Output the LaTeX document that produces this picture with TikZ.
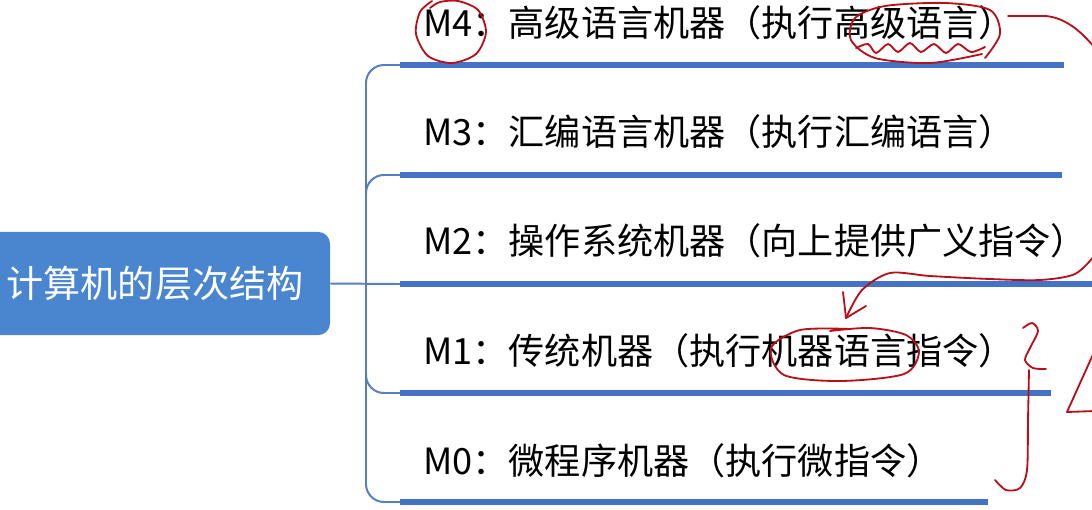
\documentclass[tikz,border=0pt]{standalone}
\usepackage{fontspec}
\setmainfont{Noto Sans CJK SC}
\usepackage{tikz}
\usetikzlibrary{positioning}

\definecolor{rootblue}{RGB}{74,134,208}
\definecolor{lineblue}{RGB}{68,114,196}
\definecolor{linkblue}{RGB}{86,126,192}
\definecolor{penred}{RGB}{185,15,25}

\begin{document}
\begin{tikzpicture}[
    x=0.025cm, y=-0.025cm,
    root/.style={rectangle, rounded corners=0.3cm, fill=rootblue, text=white, minimum width=8.75cm, minimum height=2.58cm, font=\fontsize{26.4}{30}\selectfont},
    level/.style={anchor=west, inner sep=0pt, font=\fontsize{25.7}{30}\selectfont},
    under/.style={line width=4.2pt, lineblue},
    link/.style={line width=1.4pt, linkblue, rounded corners=0.45cm},
    pen/.style={line width=1.3pt, penred, line cap=round, line join=round}
]
\useasboundingbox (0,0) rectangle (1092,509);

% Root
\node[root] (root) at (155,283.5) {计算机的层次结构};

% Levels
\node[level] (m4) at (423,23) {M4：高级语言机器（执行高级语言）};
\node[level] (m3) at (423,132) {M3：汇编语言机器（执行汇编语言）};
\node[level] (m2) at (423,241) {M2：操作系统机器（向上提供广义指令）};
\node[level] (m1) at (423,351) {M1：传统机器（执行机器语言指令）};
\node[level] (m0) at (423,461) {M0：微程序机器（执行微指令）};

% Underlines
\coordinate (u4s) at (400,65);  \coordinate (u4e) at (1064,65);
\coordinate (u3s) at (400,175); \coordinate (u3e) at (1062,175);
\coordinate (u2s) at (400,284); \coordinate (u2e) at (1100,284);
\coordinate (u1s) at (400,393); \coordinate (u1e) at (1051,393);
\coordinate (u0s) at (400,502); \coordinate (u0e) at (988,502);
\draw[under] (u4s) -- (u4e);
\draw[under] (u3s) -- (u3e);
\draw[under] (u2s) -- (u2e);
\draw[under] (u1s) -- (u1e);
\draw[under] (u0s) -- (u0e);

% Branches
\coordinate (spine) at (366,284);
\draw[link] (root.east) -- (u2s);
\draw[link] (u4s) -| (spine) |- (u0s);
\draw[link] (u3s) -| +(-34,32);
\draw[link] (u1s) -| +(-34,-32);

% Hand marks
\draw[pen] plot[smooth] coordinates {(432,1) (420,12) (416,34) (428,56) (452,63) (476,54) (486,32) (478,10) (458,1) (440,2) (430,8)};
\draw[pen] plot[smooth] coordinates {(985,58) (1000,34) (990,10) (945,3) (885,6) (855,18) (851,40) (875,58) (930,63) (982,54)};
\draw[pen] plot[smooth] coordinates {(856,48) (868,44) (876,53) (888,44) (898,52) (910,43) (921,52) (934,44) (946,53) (958,44) (971,52) (985,47)};
\draw[pen] (1008,16) -- (1046,16) .. controls (1065,18) and (1080,30) .. (1095,48);
\draw[pen] plot[smooth] coordinates {(1095,255) (1075,274) (1040,280) (990,279) (930,276) (890,273) (862,290) (846,318)};
\draw[pen] (846,318) -- (843,292);
\draw[pen] (846,318) -- (866,306);
\draw[pen] plot[smooth] coordinates {(850,329) (800,330) (771,348) (784,375) (840,381) (904,374) (919,352) (906,335) (870,328) (830,331)};
\draw[pen] plot[smooth] coordinates {(1023,328) (1032,323) (1038,331) (1030,348) (1025,360) (1033,368) (1046,369)};
\draw[pen] plot[smooth] coordinates {(1029,370) (1028,420) (1027,470) (1020,488) (1006,490) (995,480)};
\draw[pen] (1095,350) -- (1067,412) -- (1095,411);

\end{tikzpicture}
\end{document}
